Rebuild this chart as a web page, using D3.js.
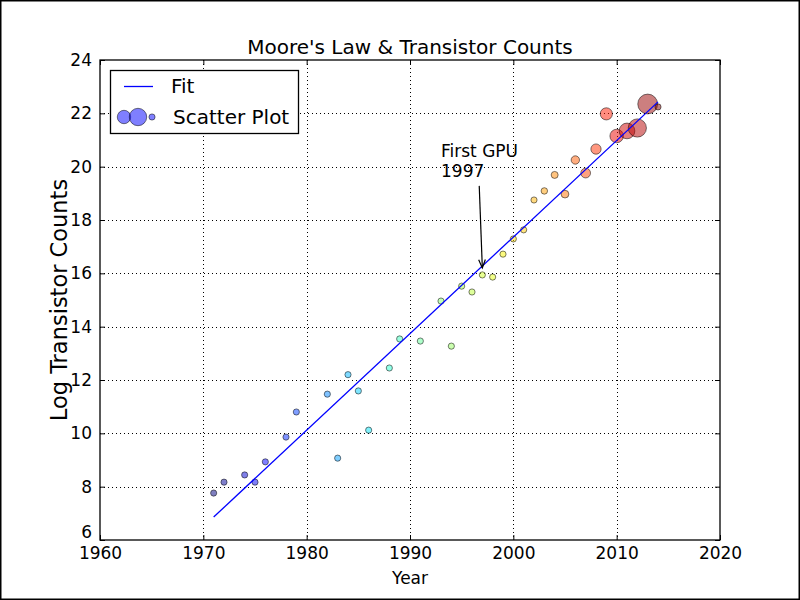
<!DOCTYPE html>
<html>
<head>
<meta charset="utf-8">
<script src="https://cdn.jsdelivr.net/npm/d3@7/dist/d3.min.js"></script>
<style>
  html, body { margin: 0; padding: 0; background: #fff; }
  svg { display: block; font-family: "DejaVu Sans", sans-serif; }
</style>
</head>
<body>
<svg id="chart" width="800" height="600"></svg>
<script>
// ---- data ----
const years = [1971, 1972, 1974, 1975, 1976, 1978, 1979, 1982, 1983, 1984, 1985, 1986, 1988, 1989,
  1991, 1993, 1994, 1995, 1996, 1997, 1998, 1999, 2000, 2001, 2002, 2003, 2004, 2005, 2006, 2007,
  2008, 2009, 2010, 2011, 2012, 2013, 2014];
const logCounts = [7.76, 8.17, 8.44, 8.17, 8.93, 9.86, 10.80, 11.47, 9.07, 12.20, 11.59, 10.12, 12.45, 13.54,
  13.46, 14.96, 13.27, 15.52, 15.30, 15.94, 15.86, 16.72, 17.29, 17.63, 18.75, 19.09, 19.69, 18.97, 20.25, 19.76,
  20.66, 21.98, 21.15, 21.34, 21.45, 22.35, 22.24];
// relative GPU transistor count (0..1), drives marker area
const gpuCounts = [0, 0, 0, 0, 0, 0, 0, 0, 0, 0, 0, 0, 0, 0,
  0, 0, 0, 0, 0, 0, 0, 0, 0, 0, 0, 0.01, 0.03, 0.06, 0.09, 0.16,
  0.19, 0.31, 0.41, 0.59, 0.83, 1.0, 0];
const fitYears = [1971, 2014];
const fitValues = [6.86, 22.43];
const xTicks = [1960, 1970, 1980, 1990, 2000, 2010, 2020];
const yTicks = [6, 8, 10, 12, 14, 16, 18, 20, 22, 24];
const annotationText = ["First GPU", "1997"];
const annotationTextPos = [1993.0, 20.35];
const annotationArrowFrom = [1996.7, 19.28];
const annotationArrowTo = [1997, 16.2];
const legendLabels = ["Fit", "Scatter Plot"];
const legendMarkerSizes = [0.4, 0.75, 0];

// ---- layout ----
const svg = d3.select("#chart");
const W = 800, H = 600;
const m = { left: 100, right: 80, top: 60, bottom: 60 };
const x = d3.scaleLinear().domain([1960, 2020]).range([m.left, W - m.right]);
const y = d3.scaleLinear().domain([6, 24]).range([H - m.bottom, m.top]);
const rMin = 3.1, rMax = 9.9;
const rArea = v => Math.sqrt(rMin * rMin + v * (rMax * rMax - rMin * rMin));

// jet colormap
function jet(t) {
  function interp(pts) {
    for (let i = 0; i < pts.length - 1; i++) {
      const [x0, y0] = pts[i], [x1, y1] = pts[i + 1];
      if (t >= x0 && t <= x1) return y0 + (y1 - y0) * (t - x0) / (x1 - x0);
    }
    return pts[pts.length - 1][1];
  }
  const r = interp([[0, 0], [0.35, 0], [0.66, 1], [0.89, 1], [1, 0.5]]);
  const g = interp([[0, 0], [0.125, 0], [0.375, 1], [0.64, 1], [0.91, 0], [1, 0]]);
  const b = interp([[0, 0.5], [0.11, 1], [0.34, 1], [0.65, 0], [1, 0]]);
  return `rgba(${Math.round(r * 255)},${Math.round(g * 255)},${Math.round(b * 255)},0.5)`;
}
const cNorm = d3.scaleLinear().domain(d3.extent(years)).range([0, 1]);

// figure border
svg.append("rect").attr("x", 0.5).attr("y", 0.5).attr("width", W - 1).attr("height", H - 1)
  .attr("fill", "#fff").attr("stroke", "#000").attr("stroke-width", 2);

// grid
const grid = svg.append("g");
xTicks.slice(1, -1).forEach(t => {
  grid.append("line").attr("x1", Math.round(x(t)) + 0.5).attr("x2", Math.round(x(t)) + 0.5)
    .attr("y1", y(24)).attr("y2", y(6))
    .attr("stroke", "#000").attr("stroke-width", 1).attr("stroke-dasharray", "1,3");
});
yTicks.slice(1, -1).forEach(t => {
  grid.append("line").attr("y1", Math.round(y(t)) + 0.5).attr("y2", Math.round(y(t)) + 0.5)
    .attr("x1", x(1960)).attr("x2", x(2020))
    .attr("stroke", "#000").attr("stroke-width", 1).attr("stroke-dasharray", "1,3");
});

// scatter
const pts = years.map((yr, i) => ({ yr, v: logCounts[i], s: gpuCounts[i] }));
svg.append("g").selectAll("circle").data(pts).join("circle")
  .attr("cx", d => x(d.yr)).attr("cy", d => y(d.v))
  .attr("r", d => rArea(d.s))
  .attr("fill", d => jet(cNorm(d.yr)))
  .attr("stroke", "rgba(0,0,0,0.5)").attr("stroke-width", 1);

// fit line
svg.append("path")
  .datum(fitYears.map((yr, i) => [yr, fitValues[i]]))
  .attr("d", d3.line().x(d => x(d[0])).y(d => y(d[1])))
  .attr("fill", "none").attr("stroke", "#0000ff").attr("stroke-width", 1.3);

// axes frame
svg.append("rect").attr("x", x(1960)).attr("y", y(24)).attr("width", x(2020) - x(1960))
  .attr("height", y(6) - y(24)).attr("fill", "none").attr("stroke", "#000").attr("stroke-width", 1.3);

// ticks (inside, all four sides)
const axB = d3.axisBottom(x).tickValues(xTicks).tickSize(-5).tickPadding(7).tickFormat(d3.format("d"));
const axT = d3.axisTop(x).tickValues(xTicks).tickSize(-5).tickFormat("");
const axL = d3.axisLeft(y).tickValues(yTicks).tickSize(-5).tickPadding(8);
const axR = d3.axisRight(y).tickValues(yTicks).tickSize(-5).tickFormat("");
function styleAxis(g) {
  g.select(".domain").remove();
  g.selectAll(".tick line").attr("stroke", "#000");
  g.selectAll(".tick text").attr("fill", "#000").attr("font-size", 17)
    .attr("font-family", "DejaVu Sans, sans-serif");
}
svg.append("g").attr("transform", `translate(0,${y(6)})`).call(axB).call(styleAxis);
svg.append("g").attr("transform", `translate(0,${y(24)})`).call(axT).call(styleAxis);
const gL = svg.append("g").attr("transform", `translate(${x(1960)},0)`).call(axL).call(styleAxis);
// lowest y label sits slightly raised (as in the reference) to clear the x labels
gL.selectAll(".tick text").filter(d => d === yTicks[0]).attr("dy", "-0.15em");
svg.append("g").attr("transform", `translate(${x(2020)},0)`).call(axR).call(styleAxis);

// labels
svg.append("text").attr("x", (x(1960) + x(2020)) / 2).attr("y", 54).attr("text-anchor", "middle")
  .attr("font-size", 20).text("Moore's Law & Transistor Counts");
svg.append("text").attr("x", (x(1960) + x(2020)) / 2).attr("y", 584).attr("text-anchor", "middle")
  .attr("font-size", 17).text("Year");
svg.append("text").attr("transform", `translate(67,${(y(6) + y(24)) / 2}) rotate(-90)`)
  .attr("text-anchor", "middle").attr("font-size", 22.5).text("Log Transistor Counts");

// annotation
const ann = svg.append("g");
annotationText.forEach((t, i) => {
  ann.append("text").attr("x", x(annotationTextPos[0])).attr("y", y(annotationTextPos[1]) + i * 20)
    .attr("font-size", 17).text(t);
});
const ax0 = x(annotationArrowFrom[0]), ay0 = y(annotationArrowFrom[1]);
const ax1 = x(annotationArrowTo[0]), ay1 = y(annotationArrowTo[1]);
ann.append("line").attr("x1", ax0).attr("y1", ay0).attr("x2", ax1).attr("y2", ay1)
  .attr("stroke", "#000").attr("stroke-width", 1.2);
{
  const ang = Math.atan2(ay1 - ay0, ax1 - ax0);
  const L = 9, spread = 0.38;
  const p1 = [ax1 - L * Math.cos(ang - spread), ay1 - L * Math.sin(ang - spread)];
  const p2 = [ax1 - L * Math.cos(ang + spread), ay1 - L * Math.sin(ang + spread)];
  ann.append("path").attr("d", `M${p1[0]},${p1[1]}L${ax1},${ay1}L${p2[0]},${p2[1]}`)
    .attr("fill", "none").attr("stroke", "#000").attr("stroke-width", 1.2);
}

// legend
const lg = svg.append("g");
lg.append("rect").attr("x", 110.5).attr("y", 70.5).attr("width", 188).attr("height", 63)
  .attr("fill", "#fff").attr("stroke", "#000").attr("stroke-width", 1.3);
lg.append("line").attr("x1", 124).attr("x2", 153).attr("y1", 86.5).attr("y2", 86.5)
  .attr("stroke", "#0000ff").attr("stroke-width", 1.3);
const legendMarkerX = [124, 138, 152];
legendMarkerSizes.forEach((s, i) => {
  lg.append("circle").attr("cx", legendMarkerX[i]).attr("cy", 117).attr("r", rArea(s))
    .attr("fill", "rgba(0,0,255,0.5)").attr("stroke", "rgba(0,0,0,0.5)").attr("stroke-width", 1);
});
lg.append("text").attr("x", 171).attr("y", 93).attr("font-size", 20).text(legendLabels[0]);
lg.append("text").attr("x", 173).attr("y", 124).attr("font-size", 20).text(legendLabels[1]);
</script>
</body>
</html>
